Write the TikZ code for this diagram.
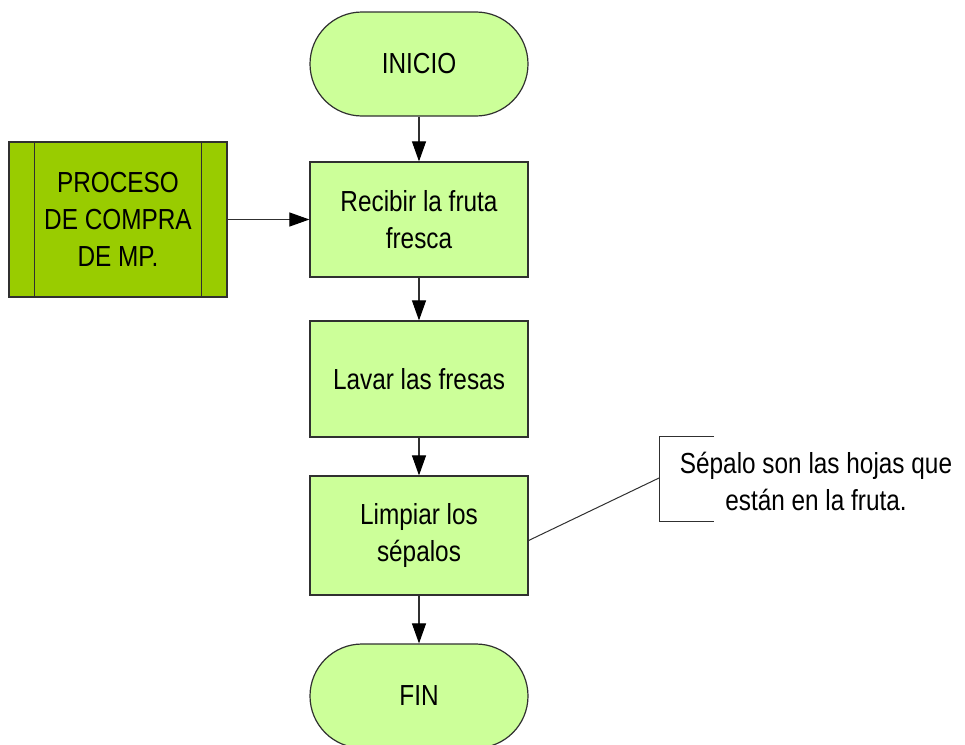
\documentclass[tikz,border=0pt]{standalone}
\usepackage{fontspec}
\setmainfont{Liberation Sans}[FakeStretch=0.84]
\usetikzlibrary{arrows.meta}
\definecolor{lightg}{HTML}{CCFF99}
\definecolor{darkg}{HTML}{99CC00}
\definecolor{edge}{HTML}{303030}
\begin{document}
\begin{tikzpicture}[x=1pt,y=-1pt,
  every node/.style={font=\fontsize{29}{37}\selectfont, align=center, inner sep=0pt},
  proc/.style={draw=edge, line width=1.2pt, fill=lightg, minimum width=218pt},
  term/.style={proc, rounded corners=52pt, minimum height=104pt},
  flow/.style={draw=edge, line width=1.1pt, -{Triangle[width=14pt,length=20pt,color=black,fill=black]}},
  note/.style={draw=edge, line width=1pt},
]
\fill[white] (0,0) rectangle (965,744);
\useasboundingbox (0,0) rectangle (965,744);

\node[term] (ini) at (419,64) {INICIO};
\node[proc, minimum height=115pt] (rec) at (419,219.5) {Recibir la fruta\\fresca};
\node[proc, minimum height=116pt] (lav) at (419,379) {Lavar las fresas};
\node[proc, minimum height=119pt] (lim) at (419,535.5) {Limpiar los\\sépalos};
\node[term] (fin) at (419,696) {FIN};

\node[draw=edge, line width=1.2pt, fill=darkg, minimum width=218pt, minimum height=155pt] (pp) at (118,219.5) {PROCESO\\DE COMPRA\\DE MP.};
\draw[edge, line width=1.2pt] ([xshift=26pt]pp.north west) -- ([xshift=26pt]pp.south west);
\draw[edge, line width=1.2pt] ([xshift=-26pt]pp.north east) -- ([xshift=-26pt]pp.south east);

\draw[flow] (ini) -- (rec);
\draw[flow] (rec) -- (lav);
\draw[flow] (lav) -- (lim);
\draw[flow] (lim) -- (fin);
\draw[flow] (pp) -- (rec);

\node (ann) at (816,481) {Sépalo son las hojas que\\están en la fruta.};
\coordinate (bk) at (659,478);
\draw[note] (714,436) -- (659,436) -- (659,521) -- (714,521);
\draw[note] ([yshift=-5pt]lim.east) -- (bk);
\end{tikzpicture}
\end{document}
